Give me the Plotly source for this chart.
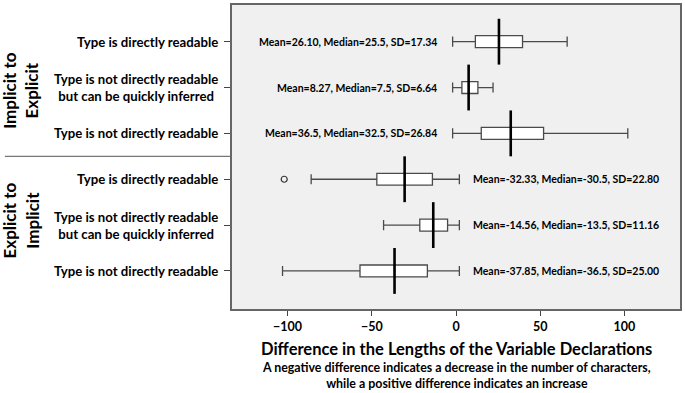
import plotly.graph_objects as go

# ---- data ----
row_labels = [
    "Type is directly readable",
    "Type is not directly readable<br>but can be quickly inferred",
    "Type is not directly readable",
    "Type is directly readable",
    "Type is not directly readable<br>but can be quickly inferred",
    "Type is not directly readable",
]
group_labels = ["Implicit to<br>Explicit", "Explicit to<br>Implicit"]
lower_whisker = [-2, -2, -2, -86, -43, -103]
q1 = [11.5, 3.5, 15, -47, -21.5, -57]
median = [25.5, 7.5, 32.5, -30.5, -13.5, -36.5]
q3 = [39.5, 13, 52, -14, -5, -17]
upper_whisker = [66, 22, 102, 2, 2, 2]
means = ["26.10", "8.27", "36.5", "-32.33", "-14.56", "-37.85"]
sds = ["17.34", "6.64", "26.84", "22.80", "11.16", "25.00"]
outlier_x = [-102]
outlier_row = [3]
x_ticks = [-100, -50, 0, 50, 100]

FONT = "Lato"
rows = list(range(len(row_labels)))

fig = go.Figure()

fig.add_trace(go.Box(
    y=rows, q1=q1, median=median, q3=q3,
    lowerfence=lower_whisker, upperfence=upper_whisker,
    orientation="h", width=0.26, whiskerwidth=0.85,
    fillcolor="white", line=dict(color="#4a4a4a", width=1.3),
    boxpoints=False, hoverinfo="skip", showlegend=False,
))

# median lines spanning a full category band
mx, my = [], []
for i, m in enumerate(median):
    mx += [m, m, None]
    my += [i - 0.5, i + 0.5, None]
fig.add_trace(go.Scatter(x=mx, y=my, mode="lines",
                         line=dict(color="black", width=2.6),
                         showlegend=False, hoverinfo="skip"))

fig.add_trace(go.Scatter(x=outlier_x, y=outlier_row, mode="markers",
                         marker=dict(symbol="circle-open", size=6,
                                     color="#333", line=dict(width=1.2)),
                         showlegend=False, hoverinfo="skip"))

annotations = []
for i in rows:
    txt = f"Mean={means[i]}, Median={median[i]:g}, SD={sds[i]}"
    if i < 3:
        annotations.append(dict(x=lower_whisker[i] - 8, y=i, xref="x", yref="y",
                                text=txt, showarrow=False, xanchor="right",
                                font=dict(family=FONT, size=10.5, color="black", weight="bold")))
    else:
        annotations.append(dict(x=upper_whisker[i] + 7, y=i, xref="x", yref="y",
                                text=txt, showarrow=False, xanchor="left",
                                font=dict(family=FONT, size=10.5, color="black", weight="bold")))
    annotations.append(dict(x=-0.027, y=i, xref="paper", yref="y",
                            text=row_labels[i], showarrow=False, xanchor="right",
                            align="center",
                            font=dict(family=FONT, size=13.2, color="black", weight="bold")))

for g, yc in zip(group_labels, [1.05, 3.9]):
    annotations.append(dict(x=-0.471, y=yc, xref="paper", yref="y", text=g,
                            showarrow=False, textangle=-90, align="center",
                            xanchor="center", yanchor="middle",
                            font=dict(family=FONT, size=17, color="black", weight="bold")))

annotations.append(dict(x=0.5, y=-0.131, xref="paper", yref="paper",
                        text="Difference in the Lengths of the Variable Declarations",
                        showarrow=False, yanchor="middle",
                        font=dict(family=FONT, size=16.5, color="black", weight="bold")))
annotations.append(dict(x=0.5, y=-0.219, xref="paper", yref="paper",
                        text="A negative difference indicates a decrease in the number of characters,<br>while a positive difference indicates an increase",
                        showarrow=False, yanchor="middle", align="center",
                        font=dict(family=FONT, size=12.4, color="black", weight="bold")))

fig.add_shape(type="line", xref="paper", yref="y", x0=-0.507, x1=-0.004,
              y0=2.5, y1=2.5, line=dict(color="#777", width=1.2))

fig.update_layout(
    width=685, height=393,
    margin=dict(l=232, r=3, t=3, b=84),
    paper_bgcolor="white", plot_bgcolor="#f0f0f0",
    annotations=annotations,
    xaxis=dict(range=[-133, 133], tickvals=x_ticks, ticks="outside", ticklen=5,
               tickcolor="#444", showgrid=False, zeroline=False,
               showline=True, linecolor="#666", linewidth=1.5, mirror=True,
               tickfont=dict(family=FONT, size=12.5, color="black", weight="bold")),
    yaxis=dict(range=[5.83, -0.8], tickvals=rows, ticks="outside", ticklen=6,
               tickcolor="#444", showticklabels=False, showgrid=False,
               zeroline=False, showline=True, linecolor="#666", linewidth=1.5,
               mirror=True),
)

fig.write_html("out.html", config={"displayModeBar": False},
               post_script="document.body.style.margin='0';")
